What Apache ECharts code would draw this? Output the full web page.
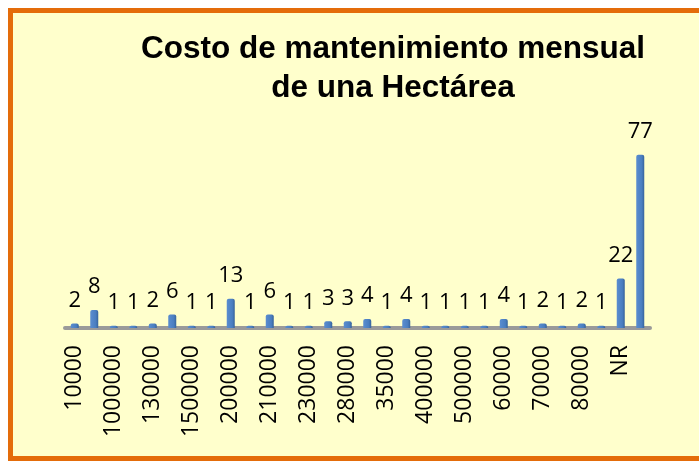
<!DOCTYPE html>
<html>
<head>
<meta charset="utf-8">
<script src="https://cdn.jsdelivr.net/npm/echarts@6/dist/echarts.min.js"></script>
<style>
html, body { margin: 0; padding: 0; background: #fff; overflow: hidden; }
#wrap { position: relative; width: 699px; height: 462px; overflow: hidden; }
#frame { position: absolute; left: 8px; top: 8px; width: 700px; height: 443px;
         border: 5px solid #E46C0A; border-right: none; background: #FFFFCC; }
#container { position: absolute; left: 0; top: 0; width: 699px; height: 462px; }
</style>
</head>
<body>
<div id="wrap">
<div id="frame"></div>
<div id="container"></div>
</div>
<script>
// categorias (solo se ven una de cada dos en el eje)
var categorias = ['10000', '100000', '1000000', '120000', '130000', '150000', '1500000', '20000',
    '200000', '2000000', '210000', '220000', '230000', '250000', '280000', '300000',
    '35000', '350000', '400000', '450000', '500000', '5000000', '60000', '600000',
    '70000', '700000', '80000', '800000', 'NR', '(en blanco)'];
var cantidades = [2, 8, 1, 1, 2, 6, 1, 1, 13, 1, 6, 1, 1, 3, 3, 4, 1, 4, 1, 1, 1, 1, 4, 1, 2, 1, 2, 1, 22, 77];
var titulo = 'Costo de mantenimiento mensual\nde una Hectárea';

var dom = document.getElementById("container");
var myChart = echarts.init(dom);
var option = {
    animation: false,
    title: {
        text: titulo,
        left: 388,
        top: 25,
        textAlign: 'center',
        textStyle: {
            fontFamily: 'Liberation Sans',
            fontWeight: 'bold',
            fontSize: 31.5,
            lineHeight: 39,
            color: '#000'
        }
    },
    grid: { left: 65, right: 49, top: 148, bottom: 134 },
    xAxis: {
        type: 'category',
        data: categorias,
        axisTick: { show: false },
        axisLine: { lineStyle: { color: '#9a9a9a', width: 4 } },
        axisLabel: {
            interval: 1,
            rotate: 90,
            margin: 17,
            fontFamily: 'Open Sans',
            fontSize: 23,
            color: '#000'
        }
    },
    yAxis: {
        type: 'value',
        min: 0,
        max: 80,
        show: false,
        splitLine: { show: false }
    },
    series: [{
        type: 'bar',
        data: cantidades,
        barWidth: 8,
        itemStyle: {
            color: new echarts.graphic.LinearGradient(0, 0, 1, 0, [
                { offset: 0, color: '#5A8DD0' },
                { offset: 0.7, color: '#4A7EC0' },
                { offset: 1, color: '#36629A' }
            ]),
            borderRadius: [2, 2, 0, 0]
        },
        label: {
            show: true,
            position: 'top',
            distance: 12,
            fontFamily: 'Open Sans',
            fontSize: 22,
            color: '#000'
        }
    }]
};
myChart.setOption(option);
</script>
</body>
</html>
